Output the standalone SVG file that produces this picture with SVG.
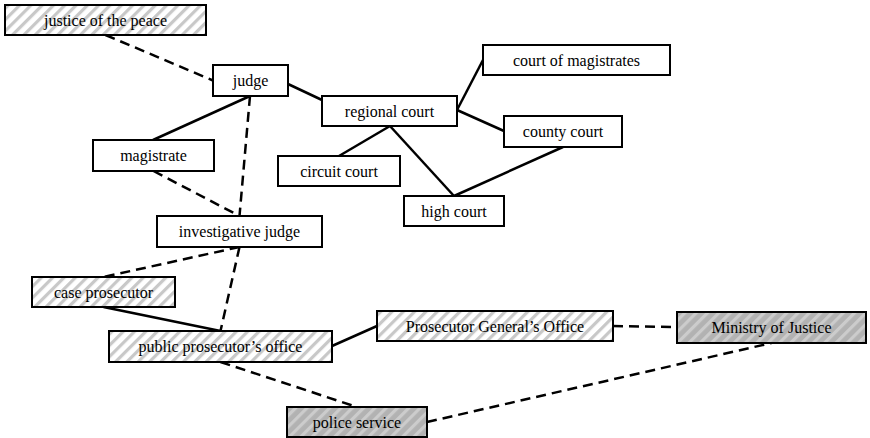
<svg xmlns="http://www.w3.org/2000/svg" width="870" height="438" viewBox="0 0 870 438">
<defs>
<pattern id="hatchW" patternUnits="userSpaceOnUse" width="8" height="8" patternTransform="rotate(45)">
<rect width="8" height="8" fill="#ffffff"/>
<rect x="0" y="0" width="3.2" height="8" fill="#c8c8c8"/>
</pattern>
<pattern id="hatchG" patternUnits="userSpaceOnUse" width="8" height="8" patternTransform="rotate(45)">
<rect width="8" height="8" fill="#b2b2b2"/>
<rect x="0" y="0" width="3.2" height="8" fill="#cccccc"/>
</pattern>
</defs>
<style>
.box{stroke:#000;stroke-width:2;fill:#fff}
.hw{fill:url(#hatchW)}
.hg{fill:url(#hatchG)}
.lbl{font-family:'Liberation Serif','Times New Roman',serif;font-size:16px;fill:#000;text-anchor:middle}
.solid{stroke:#000;stroke-width:2.5;fill:none}
.dash{stroke:#000;stroke-width:2.5;fill:none;stroke-dasharray:10,6}
</style>
<rect width="870" height="438" fill="#fff"/>
<g id="connectors">
<line class="solid" x1="288" y1="84" x2="322" y2="100"/>
<line class="solid" x1="250" y1="96" x2="153" y2="140"/>
<line class="solid" x1="457" y1="110" x2="483" y2="60"/>
<line class="solid" x1="457" y1="110" x2="504" y2="131"/>
<line class="solid" x1="390" y1="126" x2="339" y2="156"/>
<line class="solid" x1="390" y1="126" x2="454" y2="196"/>
<line class="solid" x1="563" y1="147" x2="454" y2="196"/>
<line class="solid" x1="103.5" y1="307" x2="220.5" y2="331"/>
<line class="solid" x1="332" y1="346" x2="377" y2="326"/>
<line class="dash" x1="105.5" y1="35" x2="213" y2="80.5"/>
<line class="dash" x1="250" y1="96" x2="239.5" y2="216"/>
<line class="dash" x1="153.5" y1="171" x2="239.5" y2="216"/>
<line class="dash" x1="239.5" y1="247" x2="103.5" y2="277"/>
<line class="dash" x1="239.5" y1="247" x2="220.5" y2="331"/>
<line class="dash" x1="613" y1="326" x2="677" y2="327"/>
<line class="dash" x1="220.5" y1="362" x2="357" y2="407"/>
<line class="dash" x1="427" y1="422" x2="771.5" y2="343"/>
</g>
<g id="justice-of-the-peace"><rect class="box hw" x="5" y="5" width="201" height="30"/><text class="lbl" x="105.5" y="25.5">justice of the peace</text></g>
<g id="judge"><rect class="box" x="213" y="65" width="75" height="31"/><text class="lbl" x="250.5" y="86">judge</text></g>
<g id="regional-court"><rect class="box" x="322" y="96" width="135" height="30"/><text class="lbl" x="389.5" y="116.5">regional court</text></g>
<g id="court-of-magistrates"><rect class="box" x="483" y="45" width="187" height="30"/><text class="lbl" x="576.5" y="65.5">court of magistrates</text></g>
<g id="county-court"><rect class="box" x="504" y="116" width="118" height="31"/><text class="lbl" x="563" y="137">county court</text></g>
<g id="circuit-court"><rect class="box" x="278" y="156" width="122" height="30"/><text class="lbl" x="339" y="176.5">circuit court</text></g>
<g id="high-court"><rect class="box" x="404" y="196" width="100" height="30"/><text class="lbl" x="454" y="216.5">high court</text></g>
<g id="magistrate"><rect class="box" x="93" y="140" width="121" height="31"/><text class="lbl" x="153.5" y="161">magistrate</text></g>
<g id="investigative-judge"><rect class="box" x="157" y="216" width="165" height="31"/><text class="lbl" x="239.5" y="237">investigative judge</text></g>
<g id="case-prosecutor"><rect class="box hw" x="32" y="277" width="143" height="30"/><text class="lbl" x="103.5" y="297.5">case prosecutor</text></g>
<g id="public-prosecutors-office"><rect class="box hw" x="109" y="331" width="223" height="31"/><text class="lbl" x="220.5" y="352">public prosecutor’s office</text></g>
<g id="prosecutor-generals-office"><rect class="box hw" x="377" y="311" width="236" height="30"/><text class="lbl" x="495" y="331.5">Prosecutor General’s Office</text></g>
<g id="ministry-of-justice"><rect class="box hg" x="677" y="312" width="189" height="31"/><text class="lbl" x="771.5" y="333">Ministry of Justice</text></g>
<g id="police-service"><rect class="box hg" x="287" y="407" width="140" height="30"/><text class="lbl" x="357" y="427.5">police service</text></g>
</svg>
